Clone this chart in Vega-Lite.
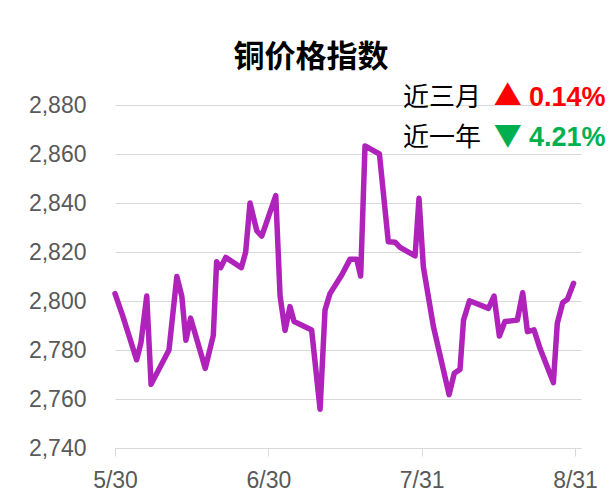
{
  "$schema": "https://vega.github.io/schema/vega-lite/v6.json",
  "width": 466,
  "height": 343,
  "autosize": "none",
  "padding": {"left": 115, "top": 105, "right": 28, "bottom": 48},
  "background": "white",
  "config": {"view": {"stroke": null}},
  "title": {
    "text": "铜价格指数",
    "font": "Noto Sans CJK SC",
    "fontSize": 31,
    "fontWeight": "bold",
    "color": "#000000",
    "anchor": "middle",
    "frame": "group",
    "offset": 10,
    "dx": -37
  },
  "datasets": {
    "threeMonth": [{"period": "近三月", "arrow": "▲", "pct": "0.14%"}],
    "oneYear": [{"period": "近一年", "arrow": "▼", "pct": "4.21%"}]
  },
  "layer": [
    {
      "data": {
        "values": [
          {"date": "2022-05-30T00:00", "value": 2803},
          {"date": "2022-05-31T13:00", "value": 2794},
          {"date": "2022-06-03T09:00", "value": 2776},
          {"date": "2022-06-04T06:00", "value": 2783},
          {"date": "2022-06-05T10:00", "value": 2802},
          {"date": "2022-06-06T07:00", "value": 2766},
          {"date": "2022-06-09T22:00", "value": 2780},
          {"date": "2022-06-11T12:00", "value": 2810},
          {"date": "2022-06-12T12:00", "value": 2802},
          {"date": "2022-06-13T08:00", "value": 2784},
          {"date": "2022-06-14T07:00", "value": 2793},
          {"date": "2022-06-17T06:00", "value": 2772.5},
          {"date": "2022-06-18T21:00", "value": 2786},
          {"date": "2022-06-19T13:00", "value": 2816},
          {"date": "2022-06-20T09:00", "value": 2813.6},
          {"date": "2022-06-21T09:00", "value": 2817.8},
          {"date": "2022-06-24T13:00", "value": 2813.6},
          {"date": "2022-06-25T10:00", "value": 2820},
          {"date": "2022-06-26T07:00", "value": 2840},
          {"date": "2022-06-27T16:00", "value": 2828.6},
          {"date": "2022-06-28T16:00", "value": 2826.5},
          {"date": "2022-07-01T12:00", "value": 2843},
          {"date": "2022-07-02T09:00", "value": 2802},
          {"date": "2022-07-03T09:00", "value": 2788},
          {"date": "2022-07-04T09:00", "value": 2797.7},
          {"date": "2022-07-05T05:00", "value": 2791.6},
          {"date": "2022-07-08T18:00", "value": 2788.2},
          {"date": "2022-07-10T11:00", "value": 2755.8},
          {"date": "2022-07-11T11:00", "value": 2796.3},
          {"date": "2022-07-12T11:00", "value": 2803},
          {"date": "2022-07-14T20:00", "value": 2810.6},
          {"date": "2022-07-16T12:00", "value": 2817},
          {"date": "2022-07-17T21:00", "value": 2817},
          {"date": "2022-07-18T16:00", "value": 2810.2},
          {"date": "2022-07-19T13:00", "value": 2863.3},
          {"date": "2022-07-22T11:00", "value": 2860},
          {"date": "2022-07-24T06:00", "value": 2824.2},
          {"date": "2022-07-25T15:00", "value": 2824},
          {"date": "2022-07-26T15:00", "value": 2821.9},
          {"date": "2022-07-29T16:00", "value": 2818.4},
          {"date": "2022-07-30T11:00", "value": 2841.9},
          {"date": "2022-07-31T08:00", "value": 2814},
          {"date": "2022-08-02T09:00", "value": 2789.5},
          {"date": "2022-08-05T13:00", "value": 2761.8},
          {"date": "2022-08-06T14:00", "value": 2770.5},
          {"date": "2022-08-07T18:00", "value": 2772.1},
          {"date": "2022-08-08T11:00", "value": 2792.2},
          {"date": "2022-08-09T16:00", "value": 2800.1},
          {"date": "2022-08-13T12:00", "value": 2797},
          {"date": "2022-08-14T15:00", "value": 2802},
          {"date": "2022-08-15T17:00", "value": 2785.7},
          {"date": "2022-08-16T20:00", "value": 2791.6},
          {"date": "2022-08-19T08:00", "value": 2792.2},
          {"date": "2022-08-20T10:00", "value": 2803.4},
          {"date": "2022-08-21T09:00", "value": 2787.5},
          {"date": "2022-08-22T17:00", "value": 2788.2},
          {"date": "2022-08-23T22:00", "value": 2780.7},
          {"date": "2022-08-26T15:00", "value": 2766.7},
          {"date": "2022-08-27T10:00", "value": 2790.9},
          {"date": "2022-08-28T12:00", "value": 2799.3},
          {"date": "2022-08-29T11:00", "value": 2800.7},
          {"date": "2022-08-30T17:00", "value": 2807.2}
        ]
      },
      "mark": {"type": "line", "color": "#b023bb", "strokeWidth": 5.5, "strokeJoin": "round", "strokeCap": "round"},
      "encoding": {
        "x": {
          "field": "date",
          "type": "temporal",
          "scale": {"domain": [{"year": 2022, "month": 5, "date": 30}, {"year": 2022, "month": 9, "date": 1, "hours": 5}]},
          "axis": {
            "title": null,
            "values": [
              {"year": 2022, "month": 5, "date": 30},
              {"year": 2022, "month": 6, "date": 30},
              {"year": 2022, "month": 7, "date": 31},
              {"year": 2022, "month": 8, "date": 31}
            ],
            "format": "%-m/%-d",
            "grid": false,
            "labelFont": "Liberation Sans",
            "labelFontSize": 23,
            "labelColor": "#595959",
            "labelPadding": 13,
            "labelFlush": false,
            "labelOverlap": false,
            "domainColor": "#d9d9d9",
            "tickColor": "#d9d9d9",
            "tickSize": 8
          }
        },
        "y": {
          "field": "value",
          "type": "quantitative",
          "scale": {"domain": [2740, 2880], "nice": false, "zero": false},
          "axis": {
            "title": null,
            "values": [2740, 2760, 2780, 2800, 2820, 2840, 2860, 2880],
            "format": ",.0f",
            "domain": false,
            "ticks": false,
            "gridColor": "#d9d9d9",
            "gridWidth": 1,
            "labelFont": "Liberation Sans",
            "labelFontSize": 23,
            "labelColor": "#595959",
            "labelPadding": 29
          }
        }
      }
    },
    {
      "data": {"name": "threeMonth"},
      "mark": {"type": "text", "font": "Noto Sans CJK SC", "fontSize": 26, "color": "#000000", "align": "left", "baseline": "middle"},
      "encoding": {
        "x": {"datum": {"year": 2022, "month": 7, "date": 27, "hours": 5}, "type": "temporal"},
        "y": {"datum": 2883, "type": "quantitative"},
        "text": {"field": "period"}
      }
    },
    {
      "data": {"name": "threeMonth"},
      "mark": {"type": "text", "font": "Noto Sans CJK SC", "fontSize": 28, "color": "#ff0000", "align": "center", "baseline": "middle"},
      "encoding": {
        "x": {"datum": {"year": 2022, "month": 8, "date": 17, "hours": 9}, "type": "temporal"},
        "y": {"datum": 2883, "type": "quantitative"},
        "text": {"field": "arrow"}
      }
    },
    {
      "data": {"name": "threeMonth"},
      "mark": {"type": "text", "font": "Liberation Sans", "fontSize": 27, "fontWeight": "bold", "color": "#ff0000", "align": "left", "baseline": "middle"},
      "encoding": {
        "x": {"datum": {"year": 2022, "month": 8, "date": 21, "hours": 17}, "type": "temporal"},
        "y": {"datum": 2883, "type": "quantitative"},
        "text": {"field": "pct"}
      }
    },
    {
      "data": {"name": "oneYear"},
      "mark": {"type": "text", "font": "Noto Sans CJK SC", "fontSize": 26, "color": "#000000", "align": "left", "baseline": "middle"},
      "encoding": {
        "x": {"datum": {"year": 2022, "month": 7, "date": 27, "hours": 5}, "type": "temporal"},
        "y": {"datum": 2866.7, "type": "quantitative"},
        "text": {"field": "period"}
      }
    },
    {
      "data": {"name": "oneYear"},
      "mark": {"type": "text", "font": "Noto Sans CJK SC", "fontSize": 28, "color": "#00b050", "align": "center", "baseline": "middle"},
      "encoding": {
        "x": {"datum": {"year": 2022, "month": 8, "date": 17, "hours": 9}, "type": "temporal"},
        "y": {"datum": 2866.7, "type": "quantitative"},
        "text": {"field": "arrow"}
      }
    },
    {
      "data": {"name": "oneYear"},
      "mark": {"type": "text", "font": "Liberation Sans", "fontSize": 27, "fontWeight": "bold", "color": "#00b050", "align": "left", "baseline": "middle"},
      "encoding": {
        "x": {"datum": {"year": 2022, "month": 8, "date": 21, "hours": 17}, "type": "temporal"},
        "y": {"datum": 2866.7, "type": "quantitative"},
        "text": {"field": "pct"}
      }
    }
  ]
}
